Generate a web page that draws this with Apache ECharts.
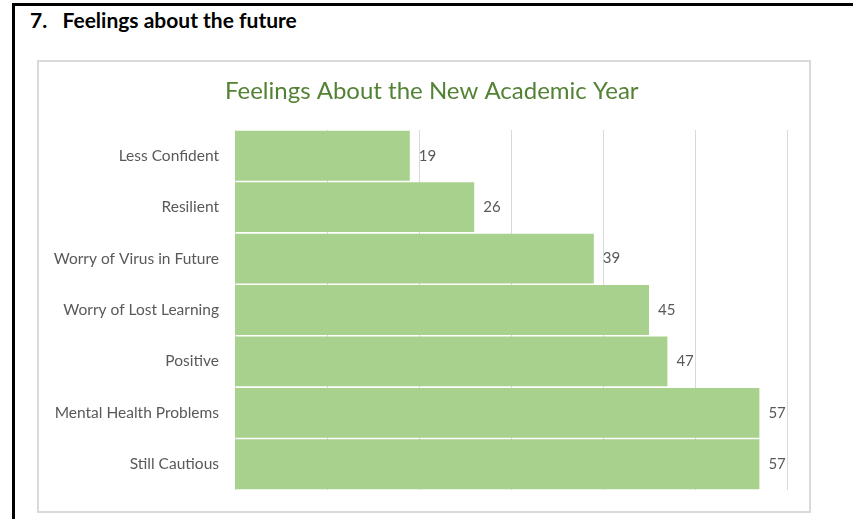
<!DOCTYPE html>
<html><head><meta charset="utf-8">
<script src="https://cdn.jsdelivr.net/npm/echarts@6/dist/echarts.min.js"></script>
<style>
html,body{margin:0;padding:0;background:#fff;width:853px;height:519px;overflow:hidden;}
#frame{position:absolute;left:12px;top:3px;width:860px;height:530px;border-left:3px solid #000;border-top:3px solid #000;}
#heading{position:absolute;left:30px;top:7px;font-family:Lato,"Open Sans",sans-serif;font-weight:bold;font-size:21px;color:#000;white-space:pre;}
#box{position:absolute;left:37px;top:60px;width:770px;height:449px;border:2px solid #d9d9d9;}
#chart{position:absolute;left:0;top:0;width:853px;height:519px;}
</style></head>
<body>
<div id="frame"></div>
<div id="heading">7.   Feelings about the future</div>
<div id="box"></div>
<div id="chart"></div>
<script>
const categories = ["Less Confident","Resilient","Worry of Virus in Future","Worry of Lost Learning","Positive","Mental Health Problems","Still Cautious"];
const values = [19,26,39,45,47,57,57];
const chartTitle = "Feelings About the New Academic Year";

const chart = echarts.init(document.getElementById('chart'));
chart.setOption({
  animation:false,
  backgroundColor:'transparent',
  title:{text:chartTitle,left:220,top:74,
    textStyle:{fontFamily:'Lato, "Open Sans", sans-serif',fontWeight:'normal',fontSize:24,color:'#548235'}},
  grid:{left:235,right:66,top:130,bottom:29,containLabel:false},
  xAxis:{type:'value',min:0,max:60,interval:10,
    axisLabel:{show:false},axisLine:{show:false},axisTick:{show:false},
    splitLine:{lineStyle:{color:'#d9d9d9',width:1}}},
  yAxis:{type:'category',data:categories,inverse:true,
    axisLine:{show:false},axisTick:{show:false},
    axisLabel:{margin:16,color:'#595959',fontSize:15.5,fontFamily:'Lato, "Open Sans", sans-serif'}},
  series:[{type:'bar',data:values,barCategoryGap:'3%',
    itemStyle:{color:'#a9d18e'},
    label:{show:true,position:'right',distance:9,color:'#595959',fontSize:15,fontFamily:'Lato, "Open Sans", sans-serif'}}]
});
</script>
</body></html>
